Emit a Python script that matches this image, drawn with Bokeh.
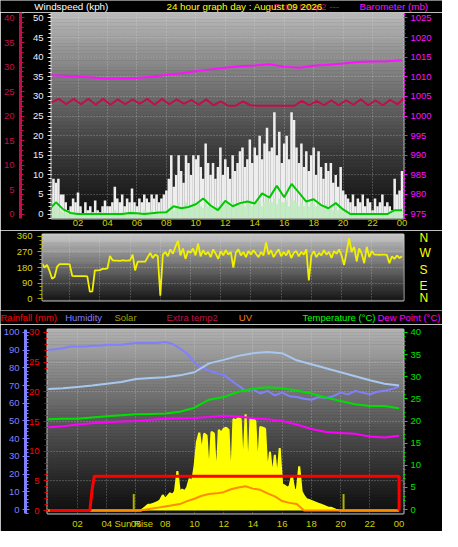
import numpy as np
from bokeh.plotting import figure
from bokeh.models import Range1d, LinearAxis, FixedTicker, SingleIntervalTicker
from bokeh.layouts import column
from bokeh.embed import file_html
from bokeh.resources import INLINE
from bokeh.core.properties import value

# ---------------- data ----------------
hour_ticks = [2, 4, 6, 8, 10, 12, 14, 16, 18, 20, 22, 24]
hour_labels = ["02", "04", "06", "08", "10", "12", "14", "16", "18", "20", "22", "00"]

t_10min = [round(i / 6, 4) for i in range(1, 145)]
gust_kph = [
    5, 9, 8, 9, 5, 5,
    3, 1, 2, 4, 3, 5.5,
    2, 0, 3, 1, 2, 0.5,
    3.5, 1, 0.5, 2, 3.5, 2,
    2, 3, 7, 4, 3, 5,
    2, 4, 3, 6.5, 3, 2,
    4, 3, 5, 4, 3, 5,
    4, 5, 3, 4, 5, 6,
    9, 15, 7, 10, 15, 11,
    8, 15, 13, 10, 15, 14,
    15, 12, 9, 18, 13, 10,
    13, 9, 12, 17, 10, 14,
    12, 9, 15, 11, 13, 16,
    17, 12, 14, 19, 13, 17,
    15, 20, 14, 18, 22, 16,
    17, 26, 15, 21, 13, 18,
    20, 14, 26, 24, 17, 13,
    18, 12, 16, 11, 15, 17,
    10, 16, 12, 9, 13, 11,
    13, 8, 10, 7, 12, 6,
    5, 4, 3, 5, 2, 4,
    3, 5, 2, 4, 3, 1,
    4, 2, 3, 5, 2, 3,
    2, 1, 9, 5, 6, 11,
]
avg_kph = [
    1, 2, 2, 1.5, 1, 0.5,
    0.5, 0, 0, 0.5, 0, 0.5,
    0, 0, 0.5, 0, 0, 0,
    0.5, 0, 0, 0, 0.5, 0,
    0, 0.5, 1, 0.5, 0, 0.5,
    0, 0.5, 0, 1, 0.5, 0,
    0.5, 0, 1, 0.5, 0, 1,
    0.5, 1, 0, 0.5, 1, 1,
    1.5, 2.5, 1, 2, 3, 2,
    2, 3, 2, 1.5, 3, 2,
    3, 2, 1.5, 4, 2, 3,
    2, 1.5, 2, 3.5, 2, 3,
    3, 2, 3, 2, 2.5, 3,
    3, 2, 3, 3.5, 2, 3,
    3, 3.5, 2, 3, 4, 3,
    3, 4, 2.5, 4, 3, 3,
    3.5, 2, 4, 3.5, 3, 2,
    3, 2, 3, 2, 3, 2.5,
    2, 3, 2, 1.5, 2.5, 1.5,
    2, 1, 2, 1, 1.5, 1,
    0.5, 0, 0, 0.5, 0, 0,
    0, 0.5, 0, 0, 0, 0,
    0, 0, 0, 0.5, 0, 0,
    0, 0, 1, 1, 1, 1.5,
]
t_30min = [i * 0.5 for i in range(49)]
avg10_kph = [1.0, 3.0, 1.2, 0.3, 0, 0, 0, 0, 0, 0, 0, 0.3, 0.2, 0, 0.2, 0.4, 0.5,
             2.0, 1.5, 1.8, 2.5, 4.0, 2.2, 1.0, 3.4, 2.0, 2.8, 3.2, 2.7, 5.3, 4.2,
             7.2, 4.3, 7.7, 5.5, 3.2, 3.8, 2.3, 1.5, 2.8, 1.2, 0, 0, 0, 0, 0, 0, 1.0, 1.0]
t_60min = list(range(25))
baro_mb = [1010.4, 1010.3, 1010.1, 1009.8, 1009.5, 1009.6, 1009.7, 1010.0, 1010.5,
           1010.9, 1011.4, 1011.9, 1012.3, 1012.7, 1012.9, 1013.2, 1012.6, 1012.3,
           1012.8, 1013.1, 1013.4, 1013.8, 1013.9, 1014.0, 1014.2]
et2_hours = [0.2 + 0.5 * k for k in range(48)] + [24.1]
extra_temp2 = [22.8, 23.5, 22.4, 23.5, 22.4, 23.5, 22.3, 23.5, 22.3, 23.4, 22.4, 23.4,
               22.5, 23.5, 22.3, 23.5, 22.4, 23.4, 22.5, 23.3, 22.3, 23.4, 22.2, 23.0,
               22.1, 22.1, 23.0, 22.2, 22.1, 22.1, 22.1, 22.1, 22.1, 22.1, 23.1, 22.2,
               23.1, 22.2, 23.2, 22.2, 23.2, 22.3, 23.4, 22.2, 23.2, 22.2, 23.3, 22.4, 23.6]

wind_dir = [
    205, 180, 195, 160, 115, 125,
    185, 200, 200, 200, 200, 198,
    132, 130, 130, 130, 130, 130,
    128, 40, 42, 163, 163, 165,
    172, 172, 175, 247, 222, 220,
    220, 218, 222, 220, 220, 222,
    255, 163, 214, 214, 214, 214,
    240, 265, 235, 255, 245, 17,
    255, 270, 245, 285, 260, 300,
    335, 250, 290, 230, 275, 265,
    290, 250, 320, 245, 280, 255,
    270, 240, 285, 260, 230, 275,
    250, 280, 255, 270, 180, 265,
    285, 250, 270, 240, 275, 255,
    280, 260, 240, 270, 250, 325,
    255, 280, 240, 265, 285, 245,
    270, 250, 280, 235, 265, 275,
    245, 270, 255, 285, 105, 250,
    275, 240, 265, 250, 280, 255,
    270, 235, 275, 260, 285, 250,
    195, 270, 350, 270, 300, 215,
    290, 260, 205, 300, 240, 275,
    255, 255, 254, 255, 255, 253,
    205, 245, 230, 250, 235, 245,
]
compass_deg = [2, 72, 165, 264, 349]
compass_txt = ["N", "E", "S", "W", "N"]

humidity_pct = [90, 90.5, 91, 92, 92, 92, 92.5, 92.5, 93, 93, 93, 93.5, 94, 94, 94, 94,
                94.5, 93.5, 91, 88, 83, 80, 78.5, 77, 76, 73, 70, 67, 68, 65.5, 67,
                64.5, 66, 64, 63.5, 62.5, 62, 63.5, 63, 64, 66, 65, 67, 66, 65, 66.5,
                67, 68, 69.5]
lightblue_c = [27.2, 27.4, 27.7, 28.0, 28.4, 28.8, 29.5, 29.7, 29.9, 30.3, 31.0, 33.0,
               33.8, 34.7, 35.3, 35.6, 35.3, 33.7, 32.8, 31.9, 31.0, 30.1, 29.2, 28.4, 28.0]
temp_c = [20.4, 20.5, 20.5, 20.8, 21.1, 21.3, 21.5, 21.6, 21.7, 22.1, 23.0, 24.8, 25.4,
          26.6, 27.3, 27.6, 27.4, 26.9, 26.2, 25.3, 24.5, 23.8, 23.4, 23.4, 22.9]
dew_c = [18.6, 18.8, 19.2, 19.5, 19.7, 19.9, 20.0, 20.3, 20.5, 20.6, 20.7, 20.9, 21.2,
         21.0, 20.6, 20.4, 20.0, 19.2, 18.2, 17.5, 17.3, 17.1, 16.5, 16.3, 16.7]
uv_index = [0] * 13 + [0.1, 0.3, 0.5, 0.7, 0.9, 1.1, 1.6, 2.0, 2.5, 2.8, 2.9, 3.1, 3.6,
                       3.9, 4.1, 3.7, 3.5, 2.9, 2.4, 1.6, 1.3, 1.1, 0] + [0] * 13
t_solar = [round(i / 6, 4) for i in range(145)]
solar_wm2 = [0] * 39 + [
    16, 32, 49, 49, 57, 65, 73, 89, 130, 97, 122, 146, 130, 162, 332, 154, 178, 162,
    195, 267, 243, 365, 575, 656, 486, 648, 632, 284, 664, 648, 243, 680, 656, 689,
    697, 680, 203, 770, 761, 778, 770, 324, 810, 284, 778, 770, 753, 332, 705, 697,
    689, 308, 494, 284, 470, 267, 527, 219, 211, 194, 203, 292, 178, 170, 373, 162,
    122, 97, 89, 81, 73, 65, 57, 49, 41, 32, 24, 24, 16, 8, 4] + [0] * 25
rain_hours = [0.1, 2.85, 3.0, 3.15, 24.0, 24.0]
rain_mm = [0, 0, 3.5, 5.8, 5.8, 0]
sun_events = [5.85, 20.2]
sun_label = "Sun Rise"

title_texts = ["Windspeed (kph)", "Extra temp2 ---", "24 hour graph day : August 09 2026",
               "Barometer (mb)"]
legend_texts = ["Rainfall (mm)", "Humidity", "Solar", "Extra temp2", "UV",
                "Temperature (\u00b0C)", "Dew Point (\u00b0C)"]

# ---------------- styling helpers ----------------
FONT = "Liberation Sans"
SX, SY = 442 / 458, 531 / 547
W = 442
XLAB = "#d0d000"
CRIM = "#c0104a"
MAG = "#ff10ff"
GRID = dict(grid_line_color="#e0e0e0", grid_line_alpha=0.45, grid_line_dash="1 2")


def shade(p, x0, x1, y0, y1, top, bot, power, n=60, rng="default"):
    edges = np.linspace(y1, y0, n + 1)
    cols = []
    for k in range(n):
        f = (k + 0.5) / n
        g = int(round(bot + (top - bot) * (1 - f) ** power))
        cols.append("#%02x%02x%02x" % (g, g, g))
    r = p.quad(left=x0, right=x1, top=edges[:-1], bottom=edges[1:], fill_color=cols,
               line_color=cols, line_width=0.6, y_range_name=rng)
    r.level = "image"


def style_axis(ax, color, tick_color=None, size="9.5px"):
    ax.major_label_text_color = color
    ax.major_label_text_font = FONT
    ax.major_label_text_font_size = size
    ax.major_tick_line_color = tick_color or color
    ax.minor_tick_line_color = tick_color or color


def hour_axis(ax, extra_ticks=(), extra_labels=()):
    ticks = hour_ticks + list(extra_ticks)
    ax.ticker = FixedTicker(ticks=ticks)
    ax.major_label_overrides = dict(zip(ticks, hour_labels + list(extra_labels)))
    ax.axis_line_color = None
    ax.major_tick_line_color = None
    ax.minor_tick_line_color = None
    ax.major_tick_out = 0
    ax.minor_tick_out = 0
    ax.major_label_text_color = XLAB
    ax.major_label_text_font = FONT
    ax.major_label_text_font_size = "9.5px"


def base_fig(h, xr, yr, left, top, bottom):
    p = figure(width=W, height=h, x_range=xr, y_range=yr, output_backend="svg",
               toolbar_location=None, min_border_left=left, min_border_right=39,
               min_border_top=top, min_border_bottom=bottom, frame_align=False,
               border_fill_color="black", background_fill_color="#202020",
               outline_line_color="#c8c8c8", outline_line_width=2)
    p.xgrid.ticker = FixedTicker(ticks=hour_ticks[:-1])
    for g in (p.xgrid[0], p.ygrid[0]):
        for k, v in GRID.items():
            setattr(g, k, v)
    return p


def band(h):
    b = figure(width=W, height=h, x_range=Range1d(0, W), y_range=Range1d(h, 0),
               output_backend="svg", toolbar_location=None, min_border=0,
               frame_align=False, border_fill_color="black",
               background_fill_color="black", outline_line_color=None)
    b.axis.visible = False
    b.grid.visible = False
    return b


# ---------------- header band (titles) ----------------
hdr = band(12)
hdr.text(x=[35 * SX, 283 * SX, 172 * SX, 372 * SX], y=[6.0] * 4, text=title_texts,
         text_color=["white", CRIM, "#ffff00", MAG], text_font=value(FONT),
         text_font_size=value("9.8px"), text_baseline="middle", text_align="left")

# ---------------- panel 1 : wind / barometer / extra temp ----------------
p1 = base_fig(218, Range1d(0.2, 24.1), Range1d(-1.12, 51.40), 42, 0, 12)
p1.extra_y_ranges = {"et2": Range1d(-0.90, 41.12), "baro": Range1d(973.88, 1026.40)}
p1.ygrid.ticker = SingleIntervalTicker(interval=5)
shade(p1, 0, 25, -1.12, 51.40, 186, 16, 1.2)

wa = p1.yaxis[0]
wa.ticker = SingleIntervalTicker(interval=5, num_minor_ticks=5)
style_axis(wa, "#f0f0ff", "#e8e8e8")
wa.axis_line_color = None
wa.major_tick_out, wa.major_tick_in, wa.minor_tick_out, wa.minor_tick_in = 4, 0, 3, 0
wa.major_label_standoff = 4
wa.axis_label = " "
wa.axis_label_text_font_size = "1px"
wa.axis_label_standoff = 5

ea = LinearAxis(y_range_name="et2", ticker=SingleIntervalTicker(interval=5, num_minor_ticks=5))
style_axis(ea, CRIM)
ea.axis_line_color = CRIM
ea.axis_line_width = 3
ea.major_tick_in, ea.major_tick_out, ea.minor_tick_in, ea.minor_tick_out = 4, 0, 3, 0
ea.major_label_standoff = 6
p1.add_layout(ea, "left")

ba = LinearAxis(y_range_name="baro", ticker=SingleIntervalTicker(interval=5, num_minor_ticks=5))
style_axis(ba, MAG)
ba.axis_line_color = None
ba.major_tick_out, ba.major_tick_in, ba.minor_tick_out, ba.minor_tick_in = 4, 0, 2, 0
ba.major_label_standoff = 3
p1.add_layout(ba, "right")

hour_axis(p1.xaxis[0])
p1.xaxis[0].major_label_standoff = 1

p1.vbar(x=t_10min, top=gust_kph, bottom=-1.2, width=0.172, fill_color="#eeeeee",
        line_color=None)
p1.vbar(x=t_10min, top=avg_kph, bottom=-1.2, width=0.172, fill_color="#c4ecc4",
        line_color=None)
p1.line(t_30min, avg10_kph, line_color="#00c800", line_width=2)
p1.line(et2_hours, extra_temp2, line_color=CRIM, line_width=2, y_range_name="et2")
p1.line(t_60min, baro_mb, line_color=MAG, line_width=2, y_range_name="baro")

# ---------------- panel 2 : wind direction ----------------
p2 = base_fig(80, Range1d(0.2, 24.1), Range1d(-11.2, 371.2), 42, 4, 10)
p2.xaxis.visible = False
p2.ygrid.ticker = FixedTicker(ticks=[90, 180, 270])
shade(p2, 0, 25, -11.2, 371.2, 205, 26, 1.1)

da = p2.yaxis[0]
da.ticker = FixedTicker(ticks=[0, 90, 180, 270, 360],
                        minor_ticks=[22.5 * k for k in range(17)])
style_axis(da, "#d8d800", "#a8a800")
da.axis_line_color = None
da.major_tick_out, da.major_tick_in, da.minor_tick_out, da.minor_tick_in = 5, 0, 3, 0
da.major_label_standoff = 5

ca = LinearAxis(ticker=FixedTicker(ticks=compass_deg))
ca.major_label_overrides = dict(zip(compass_deg, compass_txt))
ca.major_label_text_color = "#ffff00"
ca.major_label_text_font = FONT
ca.major_label_text_font_size = "12px"
ca.axis_line_color = None
ca.major_tick_line_color = None
ca.minor_tick_line_color = None
ca.major_tick_out = 0
ca.minor_tick_out = 0
ca.major_label_standoff = 16
p2.add_layout(ca, "right")

p2.line(t_10min, wind_dir, line_color="#f0f000", line_width=1.8)

# ---------------- legend band ----------------
leg = band(14)
leg.text(x=[0, 67 * SX, 118 * SX, 172 * SX, 247 * SX, 302, 377], y=[7.2] * 7,
         text=legend_texts,
         text_color=["#ff0000", "#8080ff", "#a0a000", CRIM, "#ff8000", "#00ff00", "#ff00ff"],
         text_font=value(FONT), text_font_size=value("9.5px"), text_baseline="middle",
         text_align="left")

# ---------------- panel 3 : rain / humidity / solar / uv / temperatures ----------------
p3 = base_fig(207, Range1d(-0.05, 24.3), Range1d(-0.49, 30.49), 44, 5, 16)
p3.extra_y_ranges = {"hum": Range1d(-2.17, 101.6), "temp": Range1d(-0.87, 40.65),
                     "solar": Range1d(-24.5, 1524.5)}
p3.ygrid.ticker = FixedTicker(ticks=[5, 10, 15, 20, 25])
shade(p3, -1, 25, -0.49, 30.49, 178, 16, 1.15)

ra = p3.yaxis[0]
ra.ticker = SingleIntervalTicker(interval=5, num_minor_ticks=5)
style_axis(ra, "#ff0000", "#e00000")
ra.axis_line_color = None
ra.major_tick_out, ra.major_tick_in, ra.minor_tick_out, ra.minor_tick_in = 4, 0, 3, 0
ra.major_label_standoff = 4

ha = LinearAxis(y_range_name="hum", ticker=SingleIntervalTicker(interval=10, num_minor_ticks=5))
style_axis(ha, "#8080ff")
ha.axis_line_color = "#8080ff"
ha.axis_line_width = 3
ha.major_tick_in, ha.major_tick_out, ha.minor_tick_in, ha.minor_tick_out = 4, 3, 3, 0
ha.major_label_standoff = 3
p3.add_layout(ha, "left")

ta = LinearAxis(y_range_name="temp", ticker=SingleIntervalTicker(interval=5, num_minor_ticks=5))
style_axis(ta, "#00e000")
ta.axis_line_color = None
ta.major_tick_out, ta.major_tick_in, ta.minor_tick_out, ta.minor_tick_in = 4, 0, 2, 0
ta.major_label_standoff = 3
p3.add_layout(ta, "right")

hour_axis(p3.xaxis[0], [sun_events[0]], [sun_label])
p3.xaxis[0].major_label_standoff = 4

p3.varea(x=t_solar, y1=0, y2=solar_wm2, fill_color="#ffff00", y_range_name="solar")
p3.line(t_solar, solar_wm2, line_color="#ffff00", line_width=2, y_range_name="solar")
p3.segment(x0=sun_events, y0=0, x1=sun_events, y1=2.8, line_color="#b0b000", line_width=2)
p3.line(t_30min, uv_index, line_color="#ff8c00", line_width=2)
p3.line(rain_hours, rain_mm, line_color="#ff0000", line_width=3)
p3.line(t_30min, humidity_pct, line_color="#8080ff", line_width=2, y_range_name="hum")
p3.line(t_60min, lightblue_c, line_color="#a8c8f0", line_width=2, y_range_name="temp")
p3.line(t_60min, temp_c, line_color="#00e000", line_width=2, y_range_name="temp")
p3.line(t_60min, dew_c, line_color="#ff00ff", line_width=2, y_range_name="temp")

page = column(hdr, p1, p2, leg, p3, spacing=0)
open("out.html", "w").write(file_html(page, INLINE))
